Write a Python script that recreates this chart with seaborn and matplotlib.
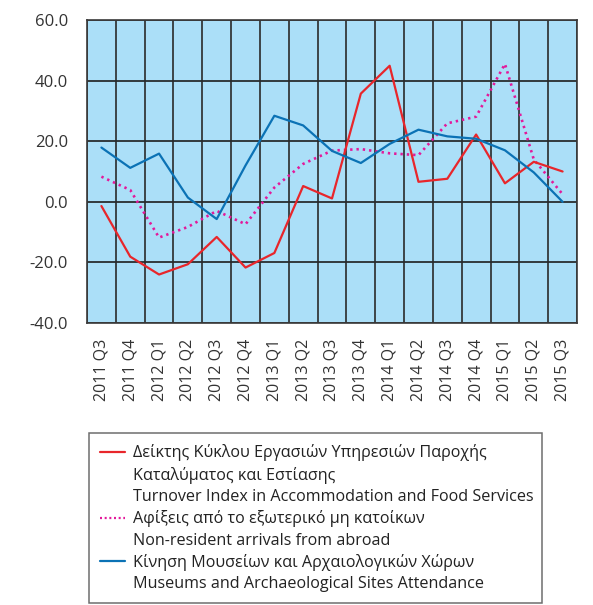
import matplotlib
matplotlib.use("Agg")
import matplotlib.pyplot as plt
from matplotlib.lines import Line2D
from matplotlib.ticker import FormatStrFormatter
import seaborn as sns
import pandas as pd

quarters = ["2011 Q3", "2011 Q4", "2012 Q1", "2012 Q2", "2012 Q3", "2012 Q4",
            "2013 Q1", "2013 Q2", "2013 Q3", "2013 Q4", "2014 Q1", "2014 Q2",
            "2014 Q3", "2014 Q4", "2015 Q1", "2015 Q2", "2015 Q3"]

turnover = [-1.4, -18.1, -24.0, -20.6, -11.6, -21.7, -16.9, 5.2, 1.1, 35.7,
            44.9, 6.6, 7.6, 22.2, 6.1, 13.2, 10.0]
arrivals = [8.3, 3.9, -11.8, -8.3, -3.0, -7.4, 4.7, 12.5, 16.9, 17.4,
            16.0, 15.4, 25.9, 28.1, 45.5, 14.0, 2.5]
museums = [17.9, 11.2, 15.9, 1.4, -5.7, 12.0, 28.4, 25.2, 16.8, 12.8,
           19.1, 23.8, 21.6, 20.8, 17.0, 9.7, 0.0]

legend_lines = [
    ["Δείκτης Κύκλου Εργασιών Υπηρεσιών Παροχής",
     "Καταλύματος και Εστίασης",
     "Turnover Index in Accommodation and Food Services"],
    ["Αφίξεις από το εξωτερικό μη κατοίκων",
     "Non-resident arrivals from abroad"],
    ["Κίνηση Μουσείων και Αρχαιολογικών Χώρων",
     "Museums and Archaeological Sites Attendance"],
]

y_ticks = [-40, -20, 0, 20, 40, 60]

sns.set_style("white")
plt.rcParams["font.family"] = ["Open Sans", "DejaVu Sans"]

df = pd.DataFrame({"quarter": quarters, "turnover": turnover,
                   "arrivals": arrivals, "museums": museums})

fig = plt.figure(figsize=(5.93, 6.05), dpi=100)
ax = fig.add_axes([87 / 593, 1 - 323 / 605, 490 / 593, 303 / 605])
ax.set_facecolor("#abdff8")

RED = "#e8262b"
PINK = "#e3199b"
BLUE = "#0b72b5"

sns.lineplot(data=df, x="quarter", y="turnover", sort=False, color=RED,
             linewidth=1.6, ax=ax, zorder=4)
sns.lineplot(data=df, x="quarter", y="arrivals", sort=False, color=PINK,
             linewidth=1.9, linestyle=(0, (0.9, 1.5)), ax=ax, zorder=3)
sns.lineplot(data=df, x="quarter", y="museums", sort=False, color=BLUE,
             linewidth=1.6, ax=ax, zorder=5)

n = len(quarters)
ax.set_xlim(-0.5, n - 0.5)
ax.set_ylim(-40, 60)
ax.set_xlabel("")
ax.set_ylabel("")

# grid: horizontal at y ticks, vertical between quarters
for y in y_ticks:
    ax.axhline(y, color="#1e1e1e", linewidth=1.2, zorder=1)
for b in range(n + 1):
    ax.axvline(b - 0.5, color="#2a2a2a", linewidth=1.2, zorder=1)

ax.set_yticks(y_ticks)
ax.yaxis.set_major_formatter(FormatStrFormatter("%.1f"))
ax.tick_params(axis="y", direction="out", length=8.8, width=1.0,
               color="#1e1e1e", labelsize=12, labelcolor="#333333", pad=5)
ax.set_xticks(range(n))
ax.set_xticklabels(quarters, rotation=90)
ax.tick_params(axis="x", length=0, labelsize=11.5, labelcolor="#333333", pad=11)

for side in ["left", "right", "top", "bottom"]:
    ax.spines[side].set_visible(True)
    ax.spines[side].set_color("#3a3a3a")
    ax.spines[side].set_linewidth(1.2)

# legend: one row per text line, line samples only on the first line of each series
styles = [dict(color=RED, lw=1.6, ls="-"),
          dict(color=PINK, lw=1.6, ls=(0, (0.9, 1.2))),
          dict(color=BLUE, lw=1.6, ls="-")]
handles, labels = [], []
for lines, st in zip(legend_lines, styles):
    for i, txt in enumerate(lines):
        if i == 0:
            handles.append(Line2D([], [], **st))
        else:
            handles.append(Line2D([], [], color="none"))
        labels.append(txt)

leg = fig.legend(handles, labels, loc="upper left",
                 bbox_to_anchor=(89 / 593, 1 - 433 / 605 - 0.01, (542 - 89) / 593, 0.01),
                 mode="expand", fontsize=11.6, frameon=True, fancybox=False,
                 handlelength=1.55, handletextpad=0.47, labelspacing=0.33,
                 borderpad=0.7, borderaxespad=0)
leg.get_frame().set_edgecolor("#4a4a4a")
leg.get_frame().set_linewidth(1.1)
for t in leg.get_texts():
    t.set_color("#222222")

fig.savefig("out.png", dpi=100)
